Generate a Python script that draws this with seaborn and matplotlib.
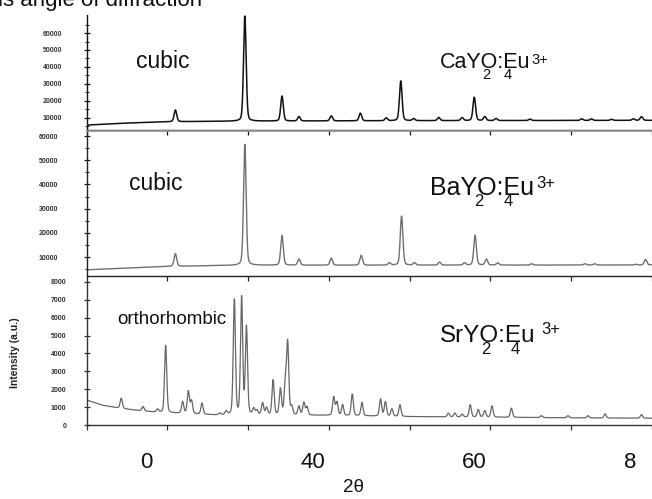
import numpy as np
import pandas as pd
import matplotlib
matplotlib.use("Agg")
import matplotlib.pyplot as plt
import matplotlib.transforms as mtransforms
import seaborn as sns

sns.set_theme(style="white")
plt.rcParams['font.family'] = ['Liberation Sans', 'DejaVu Sans']

# ---------------- data ----------------
# CaY2O4:Eu3+ (cubic)
ca_base_x = [10, 14, 19, 25, 35, 50, 65, 80]
ca_base_y = [5800, 6800, 7700, 8000, 8200, 8400, 8500, 8600]
ca_peak_pos = [21.0, 29.6, 34.2, 36.3, 40.3, 43.9, 47.1, 48.9, 50.5, 53.6, 56.5,
               58.0, 59.3, 60.7, 64.9, 71.3, 72.5, 75.0, 77.7, 78.7]
ca_peak_top = [14700, 70000, 22900, 10800, 11200, 12800, 10000, 31800, 9600, 10300,
               10200, 22200, 10800, 9700, 9300, 9500, 9400, 9200, 9500, 10800]

# BaY2O4:Eu3+ (cubic)
ba_base_x = [10, 15, 20, 25, 30, 80]
ba_base_y = [4700, 5400, 6100, 6400, 6600, 6700]
ba_peak_pos = [21.0, 29.6, 34.2, 36.3, 40.3, 44.0, 47.5, 49.0, 50.6, 53.7, 56.8,
               58.1, 59.5, 60.9, 65.1, 71.7, 72.9, 78.0, 79.2]
ba_peak_top = [11400, 56600, 18900, 9100, 9500, 10700, 7600, 26900, 7600, 7900,
               7600, 19000, 9100, 7600, 7200, 7200, 7200, 7000, 9000]

# SrY2O4:Eu3+ (orthorhombic)
sr_base_x = [10, 12, 14, 16, 19, 22, 26, 30, 40, 50, 60, 70, 80]
sr_base_y = [1400, 1100, 950, 830, 700, 650, 560, 560, 540, 470, 440, 400, 380]
sr_peak_pos = [14.3, 17.0, 18.8, 19.8, 21.9, 22.6, 23.0, 24.3, 26.5, 27.3, 28.3, 29.2,
               29.8, 30.7, 31.1, 31.8, 32.3, 33.1, 34.0, 34.6, 34.9, 35.4, 36.3, 36.9,
               37.3, 40.6, 41.0, 41.7, 42.9, 44.1, 46.4, 47.0, 47.8, 48.8, 54.8, 55.6,
               56.5, 57.5, 58.5, 59.3, 60.2, 62.6, 66.3, 69.6, 72.1, 74.2, 78.7]
sr_peak_top = [1500, 1030, 880, 4450, 1300, 1880, 1350, 1220, 650, 750, 7000, 7100,
               5450, 900, 800, 1220, 950, 2500, 2000, 2200, 4550, 1000, 1030, 1250,
               1000, 1560, 1270, 1130, 1730, 1260, 1450, 1300, 900, 1130, 660, 660,
               600, 1130, 860, 800, 1070, 940, 520, 520, 520, 620, 580]

x_tick_values = [10, 20, 30, 40, 50, 60, 70, 80]
x_label_text = ["0", "40", "60", "8"]
x_label_at = [17.35, 37.96, 57.96, 77.35]

ca_yticks = [10000, 20000, 30000, 40000, 50000, 60000]
ba_yticks = [10000, 20000, 30000, 40000, 50000, 60000]
sr_yticks = [0, 1000, 2000, 3000, 4000, 5000, 6000, 7000, 8000]

# ---------------- build profiles ----------------
x = np.linspace(10, 80, 4000)


def profile(bx, by, pos, top, w):
    base = np.interp(x, bx, by)
    y = base.copy()
    for p, t in zip(pos, top):
        amp = t - np.interp(p, bx, by)
        g = np.exp(-4 * np.log(2) * (x - p) ** 2 / w ** 2)
        lo = 1.0 / (1.0 + 4 * (x - p) ** 2 / w ** 2)
        y += amp * (0.75 * g + 0.25 * lo)
    return y


df_ca = pd.DataFrame({"x": x, "y": profile(ca_base_x, ca_base_y, ca_peak_pos, ca_peak_top, 0.38)})
df_ba = pd.DataFrame({"x": x, "y": profile(ba_base_x, ba_base_y, ba_peak_pos, ba_peak_top, 0.38)})
df_sr = pd.DataFrame({"x": x, "y": profile(sr_base_x, sr_base_y, sr_peak_pos, sr_peak_top, 0.32)})

# ---------------- figure ----------------
W, H = 652, 499
fig = plt.figure(figsize=(W / 100, H / 100), dpi=100)
L = 86.5 / W


def ax_at(top_px, bot_px):
    return fig.add_axes([L, 1 - bot_px / H, 1 - L, (bot_px - top_px) / H])


ax1 = ax_at(15, 129.5)
ax2 = ax_at(130.5, 275.7)
ax3 = ax_at(281, 425)

sns.lineplot(data=df_ca, x="x", y="y", ax=ax1, color="#111111", lw=1.1, estimator=None)
sns.lineplot(data=df_ba, x="x", y="y", ax=ax2, color="#707070", lw=1.0, estimator=None)
sns.lineplot(data=df_sr, x="x", y="y", ax=ax3, color="#666666", lw=0.9, estimator=None)

ax1.set_ylim(3200, 70600)
ax2.set_ylim(2270, 62300)
ax3.set_ylim(0, 8050)

for ax, yt, pad, spc in [(ax1, ca_yticks, 15, "#111111"),
                         (ax2, ba_yticks, 18, "#222222"),
                         (ax3, sr_yticks, 12, "#333333")]:
    ax.set_xlim(10, 79.8)
    ax.set_xlabel("")
    ax.set_ylabel("")
    ax.set_xticks(x_tick_values)
    ax.set_xticklabels([])
    ax.set_yticks(yt)
    ax.set_yticklabels([str(v) for v in yt], fontsize=5, fontweight="bold", color="#333333")
    ax.tick_params(axis="y", which="major", direction="inout", length=5, width=0.9,
                   pad=pad, left=True, colors=spc, labelcolor="#333333")
    ax.tick_params(axis="x", which="major", direction="out", length=3.5, width=0.9,
                   bottom=True, colors=spc)
    for s in ["top", "right"]:
        ax.spines[s].set_visible(False)
    for s in ["left", "bottom"]:
        ax.spines[s].set_color(spc)
        ax.spines[s].set_linewidth(1.0)
    ax.patch.set_alpha(0)

ax1.set_yticks([5000, 15000, 25000, 35000, 45000, 55000, 65000], minor=True)
ax2.set_yticks([5000, 15000, 25000, 35000, 45000, 55000], minor=True)
for ax in (ax1, ax2):
    ax.tick_params(axis="y", which="minor", direction="inout", length=3.5, width=0.8, left=True)
ax2.spines["top"].set_visible(True)
ax2.spines["top"].set_color("#999999")

# annotations
def ftext(xp, yp, s, **kw):
    fig.text(xp / W, 1 - yp / H, s, **kw)

ftext(163, 62, "cubic", fontsize=16.5, ha="center", va="center", color="#111111")
ftext(156, 183, "cubic", fontsize=16.5, ha="center", va="center", color="#111111")
ftext(172, 319, "orthorhombic", fontsize=13.5, ha="center", va="center", color="#111111")

ftext(440, 63, "CaYO:Eu", fontsize=15.5, ha="left", va="center", color="#111111")
ftext(486.7, 75, "2", fontsize=10.5, ha="center", va="center", color="#111111")
ftext(508, 75, "4", fontsize=10.5, ha="center", va="center", color="#111111")
ftext(531.5, 60, "3+", fontsize=10.5, ha="left", va="center", color="#111111")

ftext(430, 188, "BaYO:Eu", fontsize=18, ha="left", va="center", color="#111111")
ftext(479.3, 201, "2", fontsize=12, ha="center", va="center", color="#111111")
ftext(508.3, 201, "4", fontsize=12, ha="center", va="center", color="#111111")
ftext(536.5, 183, "3+", fontsize=12, ha="left", va="center", color="#111111")

ftext(440, 336, "SrYO:Eu", fontsize=17.5, ha="left", va="center", color="#111111")
ftext(486, 350, "2", fontsize=12, ha="center", va="center", color="#111111")
ftext(515, 350, "4", fontsize=12, ha="center", va="center", color="#111111")
ftext(541.5, 330, "3+", fontsize=12, ha="left", va="center", color="#111111")

# x tick labels (as drawn in the reference)
trans = mtransforms.blended_transform_factory(ax3.transData, fig.transFigure)
for s, xv in zip(x_label_text, x_label_at):
    ax3.text(xv, 1 - 463 / H, s, transform=trans, fontsize=16, ha="center", va="center",
             color="#111111", clip_on=False)
ftext(353, 488, "2θ", fontsize=13.5, ha="center", va="center", color="#111111")

ftext(15, 353, "Intensity (a.u.)", fontsize=7.5, fontweight="bold", rotation=90,
      ha="center", va="center", color="#222222")

ftext(-2, 6, "is angle of diffraction", fontsize=16, ha="left", va="baseline", color="#111111")

fig.savefig("out.png", dpi=100)
